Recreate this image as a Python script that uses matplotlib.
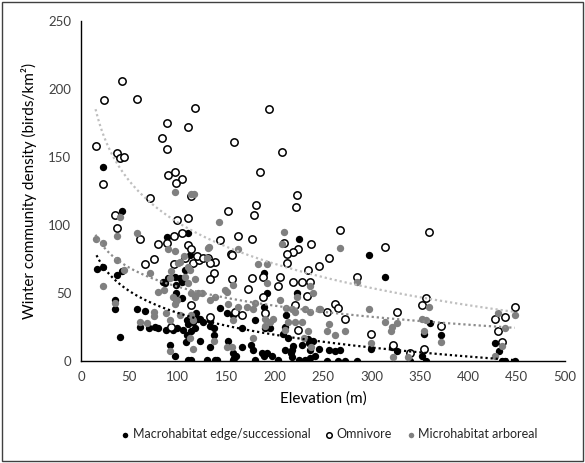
import numpy as np
import matplotlib.pyplot as plt
from matplotlib.patches import Rectangle

plt.rcParams['font.family'] = ['Lato', 'DejaVu Sans']

# elevation (m) / density (birds per km2) for each guild
macro_x = [23, 42, 111, 113, 89, 16, 23, 37, 42, 87, 97, 104, 85, 90, 102, 107, 98, 98, 97, 104,
           35, 35, 58, 66, 61, 70, 76, 80, 88, 99, 105, 95, 109, 111, 116, 121, 118, 119, 123, 126,
           133, 133, 137, 137, 109, 114, 40, 92, 97, 123, 108, 133, 111, 114, 130, 138, 140, 157, 158, 160,
           180, 144, 151, 157, 166, 152, 157, 166, 176, 178, 187, 180, 190, 189, 192, 189, 223, 225, 209, 214,
           211, 218, 211, 228, 237, 192, 197, 189, 204, 218, 225, 231, 237, 242, 240, 246, 256, 262, 268, 254,
           265, 273, 285, 297, 314, 300, 321, 326, 340, 352, 356, 361, 372, 354, 428, 432, 435, 438, 448, 212,
           195, 217, 219, 235, 236]
macro_y = [143, 110, 94, 78, 91, 68, 69, 63, 66, 57, 62, 58, 58, 61, 61, 67, 56, 50, 46, 46,
           45, 38, 38, 37, 25, 24, 25, 24, 23, 24, 23, 23, 30, 27, 29, 31, 24, 35, 31, 29,
           26, 30, 24, 19, 19, 22, 18, 12, 4, 15, 14, 10, 1, 1, 1, 1, 1, 1, 2, 4,
           1, 39, 35, 34, 24, 15, 6, 10, 12, 8, 6, 30, 24, 65, 50, 40, 50, 90, 20, 17,
           8, 8, 25, 12, 8, 6, 4, 4, 1, 3, 1, 1, 2, 4, 15, 9, 8, 7, 8, 0,
           0, 0, 0, 78, 62, 9, 10, 7, 0, 4, 0, 28, 19, 20, 13, 7, 0, 0, 0, 34,
           24, 6, 11, 16, 13]

omni_x = [15, 24, 42, 58, 37, 40, 44, 23, 89, 111, 84, 89, 118, 158, 194, 90, 97, 104, 98, 71,
          114, 208, 185, 223, 222, 181, 179, 152, 35, 37, 61, 99, 111, 96, 104, 89, 80, 111, 114, 144,
          162, 177, 210, 238, 224, 219, 213, 155, 66, 75, 96, 107, 116, 122, 120, 126, 131, 138, 133, 137,
          133, 156, 156, 177, 173, 188, 206, 204, 188, 213, 219, 228, 237, 235, 246, 256, 268, 314, 360, 285,
          262, 266, 254, 273, 326, 356, 352, 372, 114, 93, 133, 159, 166, 190, 221, 224, 300, 322, 340, 354,
          428, 438, 431, 435, 448, 233]
omni_y = [158, 192, 206, 193, 153, 149, 150, 130, 175, 172, 164, 156, 186, 161, 185, 137, 139, 134, 131, 120,
          121, 154, 139, 122, 113, 115, 107, 110, 107, 98, 90, 104, 105, 92, 94, 87, 86, 85, 82, 89,
          92, 90, 87, 86, 82, 80, 79, 79, 71, 75, 71, 76, 72, 74, 77, 76, 76, 73, 72, 65,
          60, 78, 60, 61, 53, 62, 62, 55, 47, 72, 58, 58, 58, 67, 70, 76, 96, 84, 95, 62,
          42, 39, 36, 31, 36, 46, 41, 26, 41, 25, 32, 36, 34, 35, 41, 23, 20, 12, 6, 9,
          31, 32, 22, 14, 40, 48]

micro_x = [15, 23, 37, 40, 58, 23, 37, 44, 35, 97, 117, 114, 71, 90, 97, 102, 111, 113, 93, 100,
           106, 107, 111, 92, 80, 86, 95, 99, 97, 114, 118, 118, 125, 132, 130, 75, 88, 61, 68, 75,
           92, 102, 114, 116, 113, 92, 116, 143, 131, 162, 149, 157, 151, 138, 152, 162, 171, 180, 178, 157,
           178, 137, 151, 156, 121, 133, 190, 195, 190, 206, 212, 221, 214, 221, 228, 231, 237, 247, 240, 237,
           183, 192, 210, 208, 230, 238, 268, 285, 297, 246, 256, 254, 262, 273, 314, 321, 326, 320, 322, 352,
           356, 360, 372, 354, 300, 338, 431, 438, 435, 428, 448, 192, 223, 235, 211, 198, 218]
micro_y = [90, 87, 92, 106, 94, 55, 74, 67, 43, 124, 123, 123, 65, 82, 81, 73, 69, 67, 66, 72,
           77, 62, 57, 61, 51, 52, 47, 45, 42, 50, 60, 47, 50, 84, 76, 36, 35, 29, 28, 33,
           30, 34, 34, 30, 17, 7, 9, 102, 83, 82, 52, 56, 51, 47, 42, 40, 40, 43, 38, 30,
           17, 15, 10, 10, 50, 45, 31, 29, 26, 45, 39, 36, 29, 29, 29, 38, 36, 38, 50, 55,
           71, 71, 95, 86, 17, 10, 83, 58, 38, 38, 27, 22, 19, 22, 29, 25, 28, 22, 3, 31,
           30, 40, 14, 22, 13, 3, 35, 24, 11, 4, 34, 57, 47, 22, 23, 31, 38]

labels = ['Macrohabitat edge/successional', 'Omnivore', 'Microhabitat arboreal']


def log_trend(x, y):
    # logarithmic trendline y = a + b*ln(x), drawn over the range of x
    b, a = np.polyfit(np.log(x), y, 1)
    xs = np.linspace(min(x), max(x), 200)
    return xs, a + b * np.log(xs)


fig = plt.figure(figsize=(5.85, 4.63), dpi=100)
ax = fig.add_axes([0.1385, 0.2203, 0.8273, 0.7343])

ax.scatter(macro_x, macro_y, s=28, c='black', linewidths=0, zorder=2, label=labels[0])
ax.scatter(omni_x, omni_y, s=28, facecolors='white', edgecolors='black', linewidths=1.1,
           zorder=3, label=labels[1])
ax.scatter(micro_x, micro_y, s=28, c='#808080', linewidths=0, zorder=4, label=labels[2])

for xs_, ys_, col in [(macro_x, macro_y, 'black'), (omni_x, omni_y, '#bfbfbf'),
                      (micro_x, micro_y, '#8c8c8c')]:
    tx, ty = log_trend(np.array(xs_, float), np.array(ys_, float))
    ax.plot(tx, ty, color=col, lw=1.6, ls=(0, (1, 1.3)), zorder=5)

ax.set_xlim(0, 500)
ax.set_ylim(0, 250)
ax.set_xticks(np.arange(0, 501, 50))
ax.set_yticks(np.arange(0, 251, 50))
ax.tick_params(length=0, labelsize=9.5, colors='#404040', pad=7)
for side in ['top', 'right']:
    ax.spines[side].set_visible(False)
for side in ['left', 'bottom']:
    ax.spines[side].set_color('black')
    ax.spines[side].set_linewidth(1.0)

ax.set_xlabel('Elevation (m)', fontsize=11, color='black', labelpad=6)
ax.set_ylabel('Winter community density (birds/km\u00b2)', fontsize=11, color='black', labelpad=8)

leg = fig.legend(loc='center', bbox_to_anchor=(0.56, 0.062), ncol=3, frameon=False,
                 fontsize=9, handletextpad=0.0, columnspacing=0.9, markerscale=0.75,
                 scatterpoints=1, handlelength=1.2)
for t in leg.get_texts():
    t.set_color('#262626')

fig.patches.append(Rectangle((0.004, 0.004), 0.992, 0.992, transform=fig.transFigure,
                             fill=False, edgecolor='#404040', lw=1.0))

fig.savefig('out.png', dpi=100)
